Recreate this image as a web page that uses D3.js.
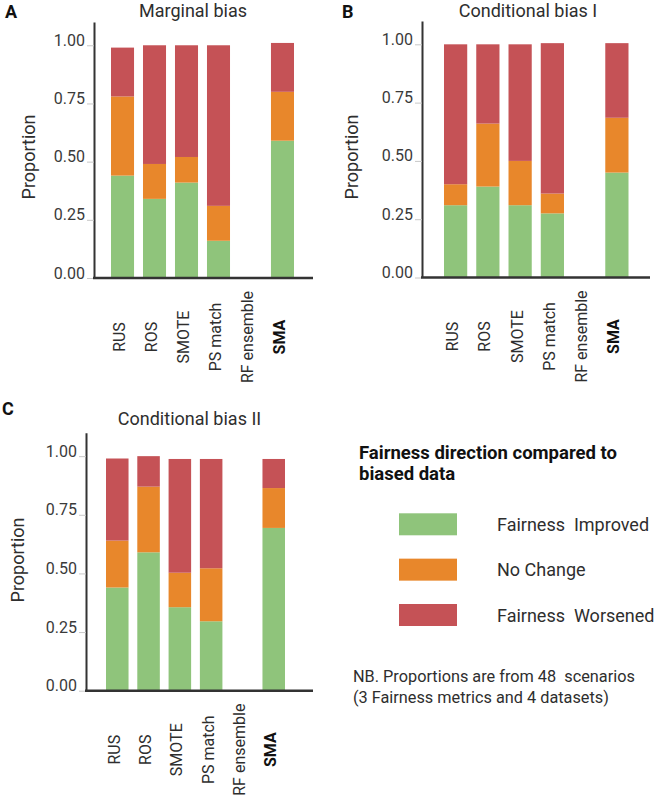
<!DOCTYPE html>
<html><head><meta charset="utf-8">
<script src="https://cdn.jsdelivr.net/npm/d3@7"></script>
<style>body{margin:0;background:#fff} svg{display:block} text{font-family:Roboto, "Open Sans", sans-serif}</style>
</head><body><svg id="c" width="660" height="801"></svg>
<script>
// ---------- data ----------
const categories = ["RUS", "ROS", "SMOTE", "PS match", "RF ensemble", "SMA"];
const yTicks = [0, 0.25, 0.5, 0.75, 1.0];
const yTickLabels = ["0.00", "0.25", "0.50", "0.75", "1.00"];
const seriesKeys = ["improved", "noChange", "worsened"];
const seriesNames = ["Fairness  Improved", "No Change", "Fairness  Worsened"];
const seriesColors = ["#8fc47b", "#e8872b", "#c55256"];
const panelTitles = ["Marginal bias", "Conditional bias I", "Conditional bias II"];
const panelLetters = ["A", "B", "C"];

// Panel A: Marginal bias
const improvedA = [0.44, 0.34, 0.41, 0.16, 0, 0.59];
const noChangeA = [0.34, 0.15, 0.11, 0.15, 0, 0.21];
const worsenedA = [0.21, 0.51, 0.48, 0.69, 0, 0.21];
// Panel B: Conditional bias I
const improvedB = [0.31, 0.39, 0.31, 0.275, 0, 0.45];
const noChangeB = [0.09, 0.27, 0.19, 0.085, 0, 0.235];
const worsenedB = [0.60, 0.34, 0.50, 0.645, 0, 0.32];
// Panel C: Conditional bias II
const improvedC = [0.44, 0.59, 0.356, 0.296, 0, 0.694];
const noChangeC = [0.20, 0.28, 0.147, 0.226, 0, 0.17];
const worsenedC = [0.35, 0.13, 0.485, 0.466, 0, 0.124];

const legendTitleLines = ["Fairness direction compared to", "biased data"];
const noteLines = ["NB. Proportions are from 48  scenarios", "(3 Fairness metrics and 4 datasets)"];

// ---------- layout ----------
const panels = [
  {imp: improvedA, nc: noChangeA, wor: worsenedA, axisX: 94, axisRight: 313, y0: 278, yTop: 22,
   bandStart: 111, bandEnd: 294, titleX: 193, titleY: 17, letterX: 5, letterY: 18, ylabX: 35, ylabY: 157},
  {imp: improvedB, nc: noChangeB, wor: worsenedB, axisX: 422, axisRight: 650, y0: 277.5, yTop: 21,
   bandStart: 444, bandEnd: 628.5, titleX: 528, titleY: 17, letterX: 342, letterY: 18, ylabX: 358, ylabY: 157},
  {imp: improvedC, nc: noChangeC, wor: worsenedC, axisX: 86, axisRight: 313, y0: 690.7, yTop: 432.7,
   bandStart: 106, bandEnd: 285, titleX: 189.5, titleY: 424.5, letterX: 2, letterY: 415, ylabX: 23.5, ylabY: 560}
];

const svg = d3.select("#c");

panels.forEach((p, pi) => {
  const g = svg.append("g");
  const rows = categories.map((c, i) => ({cat: c, improved: p.imp[i], noChange: p.nc[i], worsened: p.wor[i]}));
  const stacked = d3.stack().keys(seriesKeys)(rows);

  const x = d3.scaleBand().domain(categories).range([p.bandStart, p.bandEnd])
    .paddingInner(0.28).paddingOuter(0);
  const y = d3.scaleLinear().domain([0, 1.1]).range([p.y0, p.yTop]);

  // bars
  stacked.forEach((s, si) => {
    g.append("g").attr("fill", seriesColors[si])
      .selectAll("rect").data(s).join("rect")
      .attr("x", d => x(d.data.cat))
      .attr("width", x.bandwidth())
      .attr("y", d => y(d[1]))
      .attr("height", d => Math.max(0, y(d[0]) - y(d[1])));
  });

  // y axis
  const ya = d3.axisLeft(y).tickValues(yTicks).tickFormat((d, i) => yTickLabels[i])
    .tickSize(7).tickSizeOuter(0).tickPadding(2);
  const yg = g.append("g").attr("transform", `translate(${p.axisX},0)`).call(ya);
  yg.select(".domain").attr("stroke", "#333").attr("stroke-width", 2);
  yg.selectAll(".tick line").attr("stroke", "#c8c8c8").attr("stroke-width", 1);
  yg.selectAll(".tick text").attr("dy", "0").attr("font-size", 16).attr("fill", "#3a3a3a")
    .attr("font-family", "Roboto, sans-serif");

  // x axis line
  g.append("line").attr("x1", p.axisX - 1).attr("x2", p.axisRight)
    .attr("y1", p.y0).attr("y2", p.y0).attr("stroke", "#333").attr("stroke-width", 2.5);

  // x labels
  g.selectAll("text.xl").data(categories).join("text").attr("class", "xl")
    .attr("transform", d => `translate(${x(d) + x.bandwidth() / 2 - 3},${p.y0 + 59}) rotate(-90)`)
    .attr("text-anchor", "middle").attr("dy", "0.35em")
    .attr("font-size", 16)
    .attr("font-weight", d => d === "SMA" ? "bold" : "normal")
    .attr("fill", d => d === "SMA" ? "#111" : "#2e2e2e")
    .text(d => d);

  // y label
  g.append("text").attr("transform", `translate(${p.ylabX},${p.ylabY}) rotate(-90)`)
    .attr("text-anchor", "middle").attr("font-size", 18).attr("fill", "#2e2e2e").text("Proportion");

  // title
  g.append("text").attr("x", p.titleX).attr("y", p.titleY).attr("text-anchor", "middle")
    .attr("font-size", 18).attr("fill", "#2e2e2e").text(panelTitles[pi]);

  // letter
  g.append("text").attr("x", p.letterX).attr("y", p.letterY).attr("font-size", 18)
    .attr("font-weight", "bold").attr("fill", "#111").text(panelLetters[pi]);
});

// legend
const lg = svg.append("g");
lg.selectAll("text.lt").data(legendTitleLines).join("text").attr("class", "lt")
  .attr("x", 359).attr("y", (d, i) => 459.3 + i * 21)
  .attr("font-size", 18.5).attr("font-weight", "bold").attr("fill", "#111").text(d => d);

const ly = d3.scalePoint().domain(seriesNames).range([513.3, 604]);
lg.selectAll("rect").data(seriesNames).join("rect")
  .attr("x", 399).attr("y", d => ly(d)).attr("width", 58).attr("height", 22)
  .attr("fill", (d, i) => seriesColors[i]);
lg.selectAll("text.li").data(seriesNames).join("text").attr("class", "li")
  .attr("x", 497).attr("y", d => ly(d) + 17.5)
  .attr("font-size", 18).attr("fill", "#2e2e2e").style("white-space", "pre").text(d => d);

lg.selectAll("text.nb").data(noteLines).join("text").attr("class", "nb")
  .attr("x", 353).attr("y", (d, i) => 681.7 + i * 21.3)
  .attr("font-size", 16.3).attr("fill", "#2e2e2e").style("white-space", "pre").text(d => d);
</script>
</body></html>
